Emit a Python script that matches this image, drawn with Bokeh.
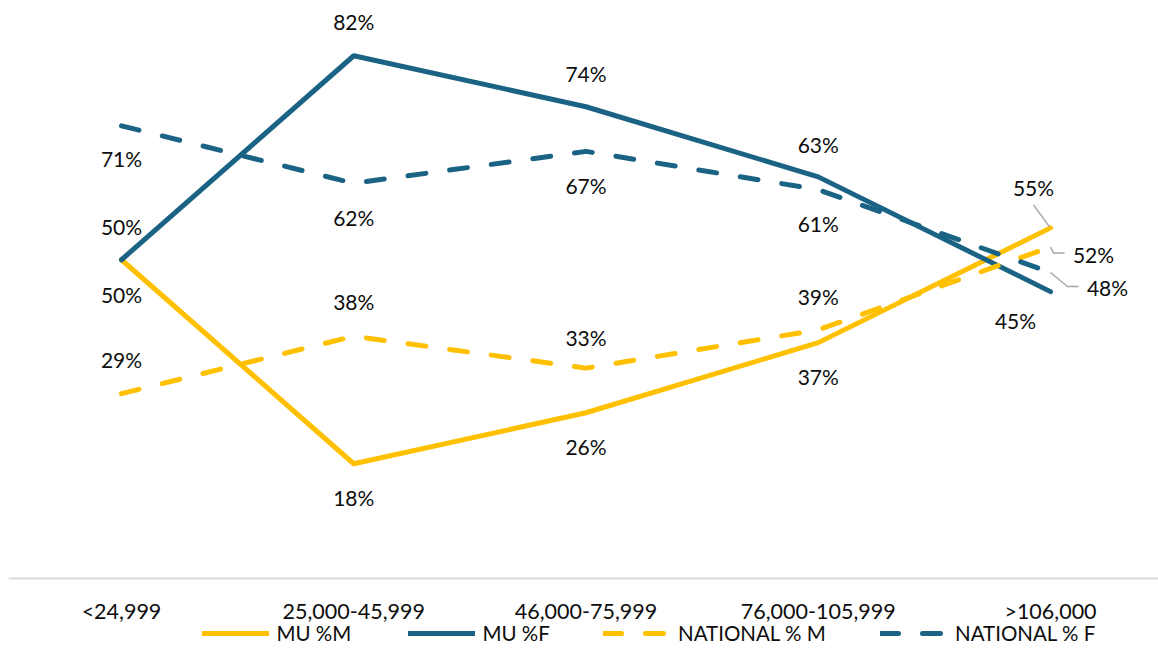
from bokeh.plotting import figure
from bokeh.models import Range1d, Legend, LegendItem, ColumnDataSource, FixedTicker
from bokeh.core.properties import value
from bokeh.embed import file_html
from bokeh.resources import INLINE

categories = ["<24,999", "25,000-45,999", "46,000-75,999", "76,000-105,999", ">106,000"]
mu_m = [50, 18, 26, 37, 55]
mu_f = [50, 82, 74, 63, 45]
nat_m = [29, 38, 33, 39, 52]
nat_f = [71, 62, 67, 61, 48]
series_names = ["MU %M", "MU %F", "NATIONAL % M", "NATIONAL % F"]

YEL = "#FFC000"
BLU = "#1B6385"
FONT = "Lato"
TXT = "#0D0D0D"
DASH = "18 24"

x = list(range(len(categories)))

ppy = 6.375
p = figure(width=1158, height=653, output_backend="svg", toolbar_location=None,
           x_range=Range1d(-0.4865, 4.465), y_range=Range1d(-75 / ppy, 578 / ppy),
           min_border_left=8, min_border_right=0, min_border_top=0, min_border_bottom=0)
p.outline_line_color = None
p.grid.visible = False
p.yaxis.visible = False
p.background_fill_color = "white"
p.border_fill_color = "white"

ax = p.xaxis[0]
ax.fixed_location = 0
ax.ticker = FixedTicker(ticks=x)
ax.major_label_overrides = {i: c for i, c in enumerate(categories)}
ax.major_tick_line_color = None
ax.minor_tick_line_color = None
ax.axis_line_color = "#D9D9D9"
ax.axis_line_width = 2
ax.major_label_standoff = 13
ax.major_label_text_font = FONT
ax.major_label_text_font_size = "21.5px"
ax.major_label_text_color = TXT

r1 = p.line(x, mu_m, line_color=YEL, line_width=5, line_cap="round", line_join="round")
r2 = p.line(x, mu_f, line_color=BLU, line_width=5, line_cap="round", line_join="round")
r3 = p.line(x, nat_m, line_color=YEL, line_width=5, line_dash=DASH, line_cap="round")
r4 = p.line(x, nat_f, line_color=BLU, line_width=5, line_dash=DASH, line_cap="round")

def labels(vals, xoffs, yoffs):
    src = ColumnDataSource(dict(x=x, y=vals, t=[f"{v}%" for v in vals],
                                xo=xoffs, yo=yoffs))
    p.text(x="x", y="y", text="t", x_offset="xo", y_offset="yo", source=src,
           text_font=value(FONT), text_font_size="21px", text_color=TXT,
           text_align="center", text_baseline="middle")

labels(mu_m, [0, 0, 0, 0, -17], [35, 34, 34, 34, -40])
labels(mu_f, [0, 0, 0, 0, -35], [-33, -34, -33, -32, 29])
labels(nat_m, [0, 0, 0, 0, 43], [-34, -35, -31, -33, 7])
labels(nat_f, [0, 0, 0, 0, 57], [33, 34, 34, 34, 15])

# leader lines (data-anchored, derived from last values)
last = len(x) - 1
ppx = 1150 / (4.465 + 0.4865)
def dx(px):
    return px / ppx
def dy(px):
    return -px / ppy
lx = [
    [last - dx(17), last - dx(1)],
    [last + dx(0), last + dx(3), last + dx(14)],
    [last + dx(0), last + dx(17), last + dx(28)],
]
ly = [
    [mu_m[last] + dy(-23), mu_m[last] + dy(-1)],
    [nat_m[last] + dy(0), nat_m[last] + dy(6), nat_m[last] + dy(6)],
    [nat_f[last] + dy(0), nat_f[last] + dy(14), nat_f[last] + dy(14)],
]
p.multi_line(lx, ly, line_color="#A6A6A6", line_width=1.5)

leg_x = [193.5, 399.5, 595, 872]
for name, r, lx0 in zip(series_names, [r1, r2, r3, r4], leg_x):
    lg = Legend(items=[LegendItem(label=name, renderers=[r])],
                orientation="horizontal", location=(lx0, 8), glyph_width=67, glyph_height=20,
                label_standoff=8, padding=0, margin=0,
                label_text_font=FONT, label_text_font_size="20.5px", label_text_color=TXT,
                background_fill_alpha=0, border_line_color=None)
    p.add_layout(lg, "center")

open("out.html", "w").write(file_html(p, INLINE))
